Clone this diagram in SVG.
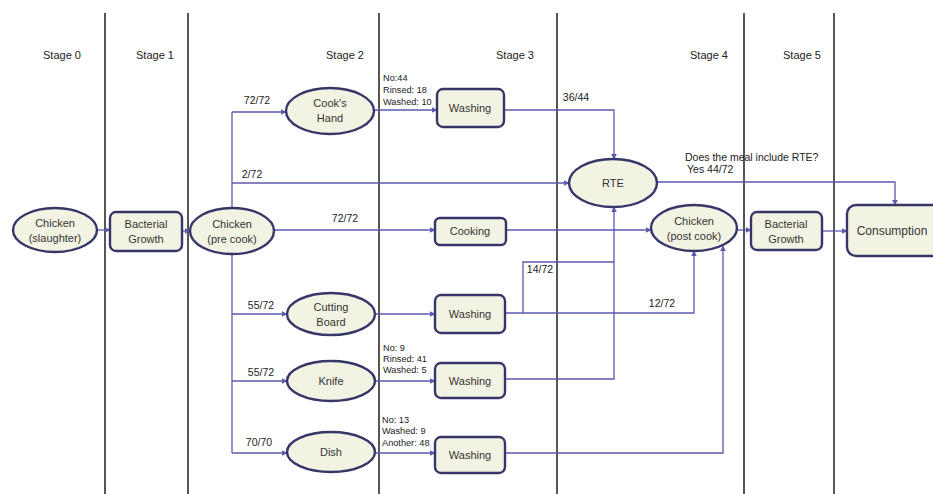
<svg xmlns="http://www.w3.org/2000/svg" width="933" height="494" viewBox="0 0 933 494">
  <style>
    .stage { stroke: #2b2b2b; stroke-width: 1.6; }
    .stxt { font-family: "Liberation Sans", Arial, sans-serif; font-size: 11px; fill: #222; text-anchor: middle; dominant-baseline: central; }
    .node { fill: #f3f3e3; stroke: #363668; stroke-width: 2.4; }
    .ntxt { font-family: "Liberation Sans", Arial, sans-serif; font-size: 11px; fill: #333; text-anchor: middle; dominant-baseline: central; }
    .edge { fill: none; stroke: #5a5aae; stroke-width: 1.3; }
    .lbl { font-family: "Liberation Sans", Arial, sans-serif; font-size: 10.5px; fill: #222; text-anchor: middle; dominant-baseline: central; }
    .note { font-family: "Liberation Sans", Arial, sans-serif; font-size: 9.2px; fill: #222; dominant-baseline: central; }
  </style>
  <defs>
    <marker id="arr" viewBox="0 0 10 10" refX="9" refY="5" markerWidth="6" markerHeight="6" orient="auto-start-reverse" markerUnits="userSpaceOnUse">
      <path d="M0,0 L10,5 L0,10 z" fill="#5a5aae"/>
    </marker>
  </defs>
  <rect width="933" height="494" fill="#ffffff"/>

  <!-- stage dividers and headings -->
  <g id="stages">
    <line class="stage" x1="105" y1="13" x2="105" y2="494"/>
    <line class="stage" x1="188" y1="13" x2="188" y2="494"/>
    <line class="stage" x1="379" y1="13" x2="379" y2="494"/>
    <line class="stage" x1="557" y1="13" x2="557" y2="494"/>
    <line class="stage" x1="744" y1="13" x2="744" y2="494"/>
    <line class="stage" x1="834" y1="13" x2="834" y2="494"/>
    <text class="stxt" x="62" y="55">Stage 0</text>
    <text class="stxt" x="155" y="55">Stage 1</text>
    <text class="stxt" x="345" y="55">Stage 2</text>
    <text class="stxt" x="515" y="55">Stage 3</text>
    <text class="stxt" x="709" y="55">Stage 4</text>
    <text class="stxt" x="802" y="55">Stage 5</text>
  </g>

  <!-- connectors -->
  <g id="connectors">
    <path class="edge" d="M97,230 H110" marker-end="url(#arr)"/>
    <path class="edge" d="M182,231 H190" marker-end="url(#arr)"/>
    <!-- branching from raw chicken -->
    <path class="edge" d="M232,208 V112"/>
    <path class="edge" d="M232,254 V453"/>
    <path class="edge" d="M232,112 H286" marker-end="url(#arr)"/>
    <path class="edge" d="M232,183 H569" marker-end="url(#arr)"/>
    <path class="edge" d="M274,230 H435" marker-end="url(#arr)"/>
    <path class="edge" d="M232,314 H287" marker-end="url(#arr)"/>
    <path class="edge" d="M232,381 H287" marker-end="url(#arr)"/>
    <path class="edge" d="M232,453 H287" marker-end="url(#arr)"/>
    <!-- surfaces to washing -->
    <path class="edge" d="M374,110 H437" marker-end="url(#arr)"/>
    <path class="edge" d="M375,314 H435" marker-end="url(#arr)"/>
    <path class="edge" d="M375,381 H435" marker-end="url(#arr)"/>
    <path class="edge" d="M375,453 H435" marker-end="url(#arr)"/>
    <!-- washing outputs -->
    <path class="edge" d="M504,110 H614 V159" marker-end="url(#arr)"/>
    <path class="edge" d="M506,230 H651" marker-end="url(#arr)"/>
    <path class="edge" d="M505,313 H694 V251" marker-end="url(#arr)"/>
    <path class="edge" d="M523,313 V262 H614"/>
    <path class="edge" d="M505,379 H614 V207" marker-end="url(#arr)"/>
    <path class="edge" d="M505,453 H723 V246" marker-end="url(#arr)"/>
    <!-- to consumption -->
    <path class="edge" d="M657,182 H895 V205" marker-end="url(#arr)"/>
    <path class="edge" d="M737,230 H751" marker-end="url(#arr)"/>
    <path class="edge" d="M822,231 H847" marker-end="url(#arr)"/>
  </g>

  <!-- connector labels -->
  <g id="labels">
    <text class="lbl" x="257" y="100">72/72</text>
    <text class="lbl" x="252" y="174">2/72</text>
    <text class="lbl" x="345" y="218">72/72</text>
    <text class="lbl" x="576" y="97">36/44</text>
    <text class="lbl" x="540" y="269">14/72</text>
    <text class="lbl" x="662" y="303">12/72</text>
    <text class="lbl" x="261" y="305">55/72</text>
    <text class="lbl" x="261" y="372">55/72</text>
    <text class="lbl" x="259" y="442">70/70</text>
    <text class="note" x="383" y="78">No:44</text>
    <text class="note" x="383" y="90">Rinsed: 18</text>
    <text class="note" x="383" y="102">Washed: 10</text>
    <text class="note" x="383" y="348">No: 9</text>
    <text class="note" x="383" y="359">Rinsed: 41</text>
    <text class="note" x="383" y="370">Washed: 5</text>
    <text class="note" x="382" y="420">No: 13</text>
    <text class="note" x="382" y="431">Washed: 9</text>
    <text class="note" x="382" y="443">Another: 48</text>
    <text class="lbl" x="685" y="157" style="text-anchor:start">Does the meal include RTE?</text>
    <text class="lbl" x="687" y="169" style="text-anchor:start">Yes 44/72</text>
  </g>

  <!-- nodes -->
  <g id="chicken-slaughter">
    <ellipse class="node" cx="55" cy="230" rx="42" ry="22"/>
    <text class="ntxt" x="55" y="223">Chicken</text>
    <text class="ntxt" x="55" y="238">(slaughter)</text>
  </g>
  <g id="growth-1">
    <rect class="node" x="110" y="212" width="72" height="39" rx="6"/>
    <text class="ntxt" x="146" y="224">Bacterial</text>
    <text class="ntxt" x="146" y="239">Growth</text>
  </g>
  <g id="chicken-precook">
    <ellipse class="node" cx="232" cy="231" rx="42" ry="23"/>
    <text class="ntxt" x="232" y="224">Chicken</text>
    <text class="ntxt" x="232" y="239">(pre cook)</text>
  </g>
  <g id="cooks-hand">
    <ellipse class="node" cx="330" cy="111" rx="44" ry="23"/>
    <text class="ntxt" x="330" y="103">Cook's</text>
    <text class="ntxt" x="330" y="118">Hand</text>
  </g>
  <g id="washing-hand">
    <rect class="node" x="437" y="89" width="67" height="38" rx="6"/>
    <text class="ntxt" x="470" y="108">Washing</text>
  </g>
  <g id="rte">
    <ellipse class="node" cx="613" cy="183" rx="44" ry="24"/>
    <text class="ntxt" x="613" y="183">RTE</text>
  </g>
  <g id="cooking">
    <rect class="node" x="435" y="218" width="71" height="27" rx="5"/>
    <text class="ntxt" x="470" y="231">Cooking</text>
  </g>
  <g id="chicken-postcook">
    <ellipse class="node" cx="694" cy="228" rx="43" ry="23"/>
    <text class="ntxt" x="694" y="221">Chicken</text>
    <text class="ntxt" x="694" y="236">(post cook)</text>
  </g>
  <g id="growth-2">
    <rect class="node" x="751" y="212" width="71" height="38" rx="6"/>
    <text class="ntxt" x="786" y="224">Bacterial</text>
    <text class="ntxt" x="786" y="239">Growth</text>
  </g>
  <g id="consumption">
    <rect class="node" x="847" y="205" width="100" height="51" rx="9"/>
    <text class="ntxt" x="892" y="231" style="font-size:12px">Consumption</text>
  </g>
  <g id="cutting-board">
    <ellipse class="node" cx="331" cy="314" rx="44" ry="21"/>
    <text class="ntxt" x="331" y="307">Cutting</text>
    <text class="ntxt" x="331" y="322">Board</text>
  </g>
  <g id="washing-board">
    <rect class="node" x="435" y="295" width="70" height="38" rx="6"/>
    <text class="ntxt" x="470" y="314">Washing</text>
  </g>
  <g id="knife">
    <ellipse class="node" cx="331" cy="381" rx="44" ry="20"/>
    <text class="ntxt" x="331" y="381">Knife</text>
  </g>
  <g id="washing-knife">
    <rect class="node" x="435" y="363" width="70" height="35" rx="6"/>
    <text class="ntxt" x="470" y="381">Washing</text>
  </g>
  <g id="dish">
    <ellipse class="node" cx="331" cy="452" rx="44" ry="20"/>
    <text class="ntxt" x="331" y="452">Dish</text>
  </g>
  <g id="washing-dish">
    <rect class="node" x="435" y="437" width="70" height="36" rx="6"/>
    <text class="ntxt" x="470" y="455">Washing</text>
  </g>
</svg>
